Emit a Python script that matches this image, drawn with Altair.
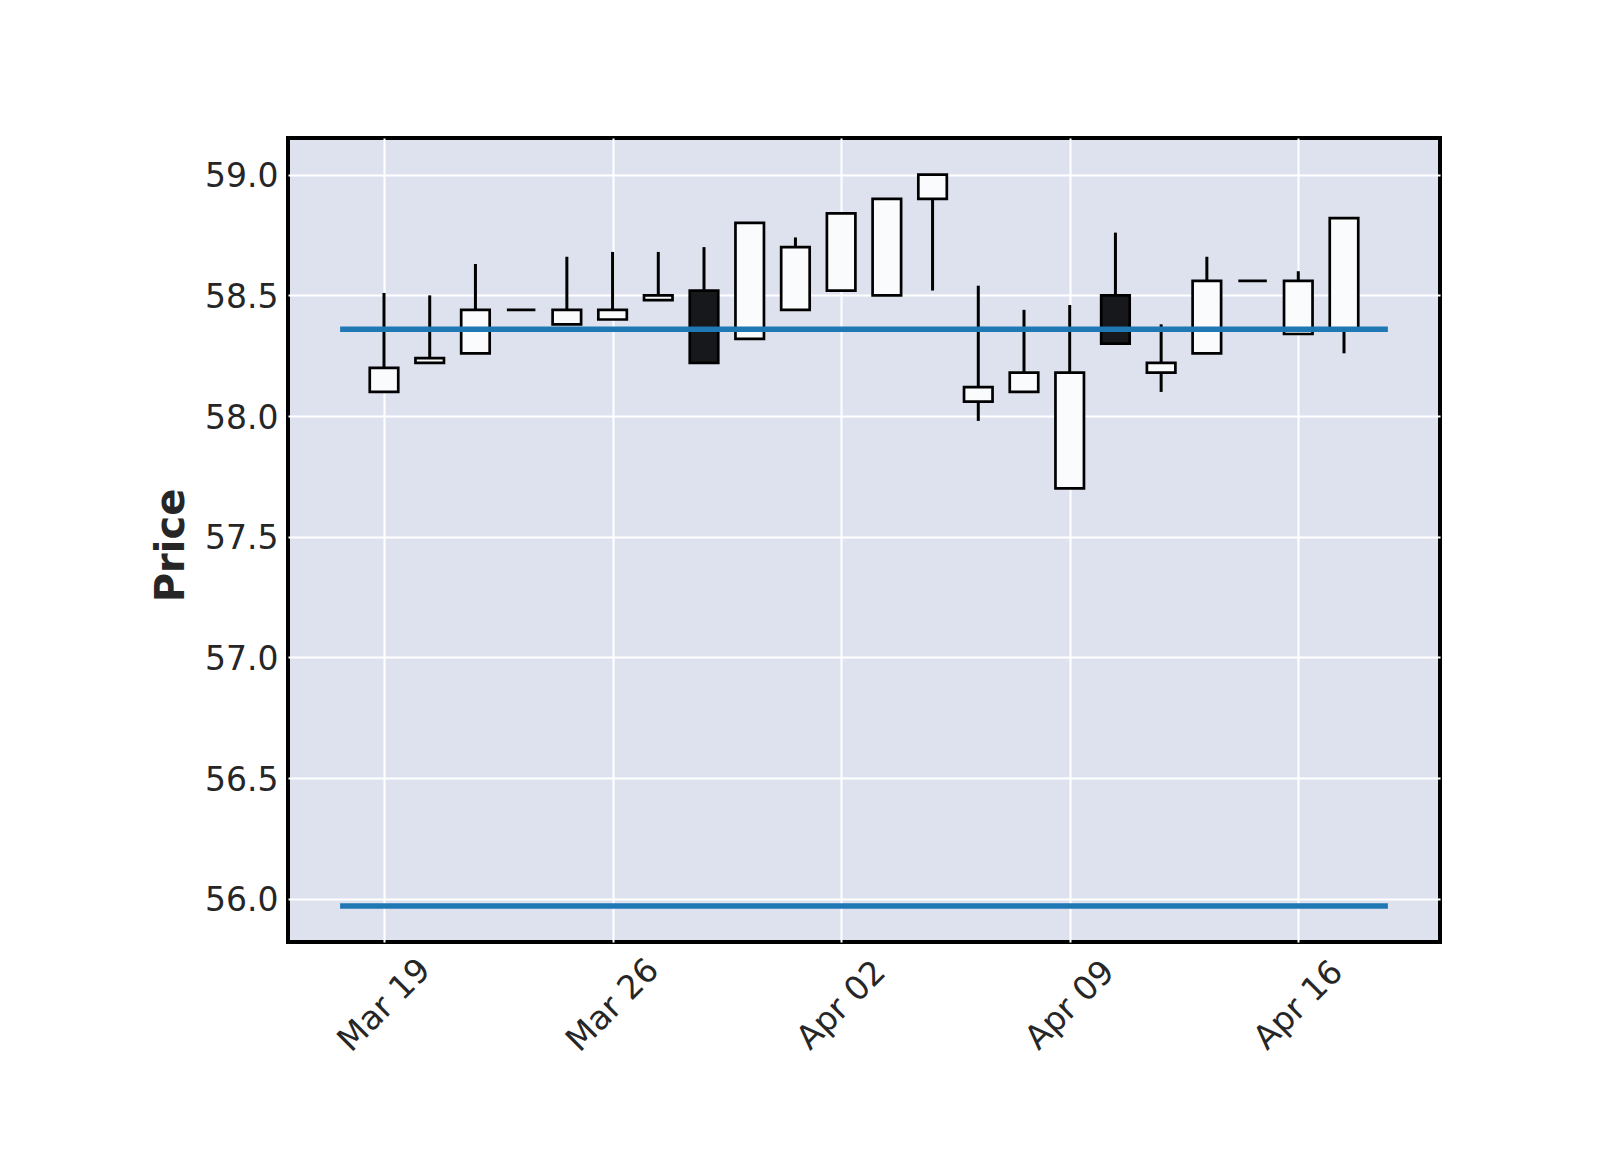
import altair as alt
import pandas as pd

# ---- data ----
dates = ["2018-03-19", "2018-03-20", "2018-03-21", "2018-03-22", "2018-03-23",
         "2018-03-26", "2018-03-27", "2018-03-28", "2018-03-29", "2018-03-30",
         "2018-04-02", "2018-04-03", "2018-04-04", "2018-04-05", "2018-04-06",
         "2018-04-09", "2018-04-10", "2018-04-11", "2018-04-12", "2018-04-13",
         "2018-04-16", "2018-04-17"]
opens = [58.10, 58.22, 58.26, 58.44, 58.38, 58.40, 58.48, 58.52, 58.32, 58.44,
         58.52, 58.50, 58.90, 58.06, 58.10, 57.70, 58.50, 58.18, 58.26, 58.56,
         58.34, 58.36]
highs = [58.51, 58.50, 58.63, 58.44, 58.66, 58.68, 58.68, 58.70, 58.80, 58.74,
         58.84, 58.90, 59.00, 58.54, 58.44, 58.46, 58.76, 58.38, 58.66, 58.56,
         58.60, 58.82]
lows = [58.10, 58.22, 58.26, 58.44, 58.38, 58.40, 58.48, 58.22, 58.32, 58.44,
        58.52, 58.50, 58.52, 57.98, 58.10, 57.70, 58.30, 58.10, 58.26, 58.56,
        58.34, 58.26]
closes = [58.20, 58.24, 58.44, 58.44, 58.44, 58.44, 58.50, 58.22, 58.80, 58.70,
          58.84, 58.90, 59.00, 58.12, 58.18, 58.18, 58.30, 58.22, 58.56, 58.56,
          58.56, 58.82]
hline_values = [58.36, 55.97]
hline_span = [-0.96, 21.96]

tick_idx = [0, 5, 10, 15, 20]
tick_lbl = ["Mar 19", "Mar 26", "Apr 02", "Apr 09", "Apr 16"]
y_ticks = [56.0, 56.5, 57.0, 57.5, 58.0, 58.5, 59.0]

x_domain = [-2.1, 23.1]
y_domain = [55.821, 59.152]

UP = "#fafbfd"
DOWN = "#17181b"

df = pd.DataFrame({
    "idx": list(range(len(dates))),
    "date": dates,
    "open": opens, "high": highs, "low": lows, "close": closes,
})
df["lo_body"] = df[["open", "close"]].min(axis=1)
df["hi_body"] = df[["open", "close"]].max(axis=1)
df["dir"] = ["up" if c >= o else "down" for o, c in zip(opens, closes)]

hl = pd.DataFrame({"y": hline_values, "x0": hline_span[0], "x1": hline_span[1]})

label_expr = " : ".join(f"datum.value == {i} ? '{l}'" for i, l in zip(tick_idx, tick_lbl)) + " : ''"

x_enc = alt.X("idx:Q",
              scale=alt.Scale(domain=x_domain, nice=False, zero=False, padding=0),
              axis=alt.Axis(values=tick_idx, labelExpr=label_expr, title=None,
                            labelAngle=315, labelAlign="center", labelBaseline="middle",
                            labelPadding=63, labelOverlap=False, labelBound=False,
                            labelFlush=False))
y_scale = alt.Scale(domain=y_domain, nice=False, zero=False, padding=0)
y_axis = alt.Axis(values=y_ticks, format=".1f", title="Price",
                  titleFontWeight="bold", titleFontSize=40, titleX=-117, titleY=407,
                  titleAngle=270, titleAlign="center", titleBaseline="middle",
                  labelPadding=10, labelOffset=2)

base = alt.Chart(df)

wicks = base.mark_rule(color="black", strokeWidth=3).encode(
    x=x_enc,
    y=alt.Y("low:Q", scale=y_scale, axis=y_axis),
    y2="high:Q",
)

bodies = base.mark_bar(size=28.5, stroke="black", strokeWidth=2.7).encode(
    x=alt.X("idx:Q"),
    y=alt.Y("lo_body:Q"),
    y2="hi_body:Q",
    fill=alt.Fill("dir:N", scale=alt.Scale(domain=["up", "down"], range=[UP, DOWN]), legend=None),
)

hlines = alt.Chart(hl).mark_rule(color="#1f77b4", strokeWidth=5.5).encode(
    x=alt.X("x0:Q"),
    x2="x1:Q",
    y=alt.Y("y:Q"),
)

chart = alt.layer(wicks, bodies, hlines).properties(
    width=1152, height=804,
    autosize=alt.AutoSizeParams(type="none"),
    padding={"left": 288, "top": 138, "right": 160, "bottom": 208},
    background="white",
).configure_view(
    stroke="black", strokeWidth=4, fill="#dde2ee",
).configure_axis(
    grid=True, gridColor="white", gridWidth=2,
    domain=False, ticks=False, tickSize=0,
    labelFont="DejaVu Sans", labelFontSize=33, labelColor="#262626",
    titleFont="DejaVu Sans", titleColor="#262626",
)

chart.save("out.html", embed_options={"renderer": "svg", "actions": False})
